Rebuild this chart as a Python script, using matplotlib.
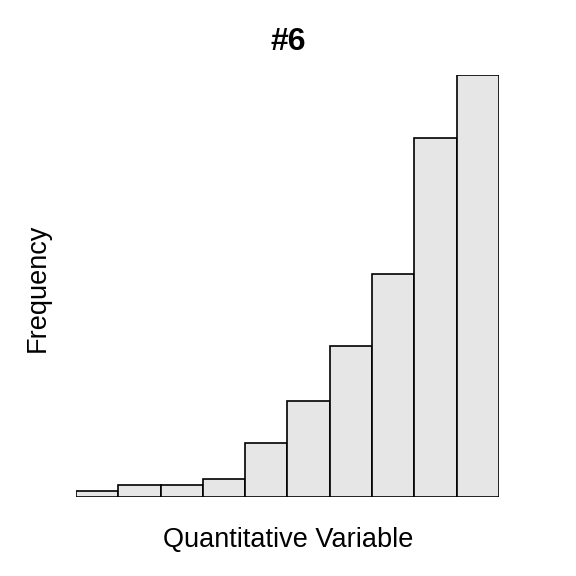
import matplotlib.pyplot as plt

# bin edges and counts
bin_edges = [0, 1, 2, 3, 4, 5, 6, 7, 8, 9, 10]
counts = [1, 2, 2, 3, 9, 16, 25, 37, 59.5, 70]

plt.rcParams['font.family'] = ['Liberation Sans', 'DejaVu Sans']

fig = plt.figure(figsize=(5.76, 5.76), dpi=100)
ax = fig.add_axes([0.132, 0.137, 0.734, 0.733])
ax.bar(bin_edges[:-1], counts, width=1, align='edge',
       color='#E6E6E6', edgecolor='black', linewidth=1.2)
ax.set_xlim(bin_edges[0], bin_edges[-1])
ax.set_ylim(0, max(counts))
ax.axis('off')

fig.text(0.5, 0.927, '#6', ha='center', va='center', fontsize=23, fontweight='bold')
fig.text(0.5, 0.062, 'Quantitative Variable', ha='center', va='center', fontsize=19.5)
fig.text(0.065, 0.5, 'Frequency', ha='center', va='center', fontsize=19.5, rotation=90)

fig.savefig('out.png', dpi=100)
